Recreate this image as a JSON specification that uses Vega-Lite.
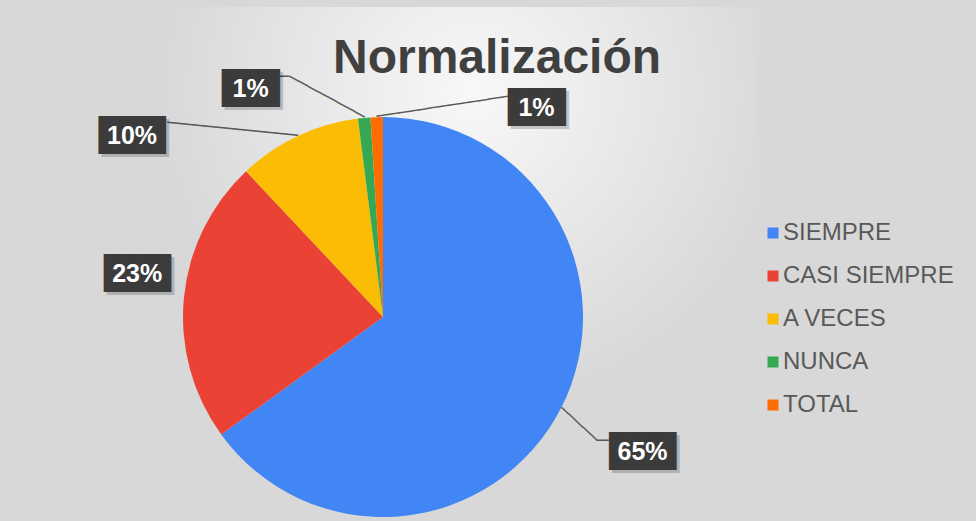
{
  "$schema": "https://vega.github.io/schema/vega-lite/v6.json",
  "width": 752,
  "height": 620,
  "autosize": {"type": "none"},
  "padding": {"left": 7, "top": 7, "right": 217, "bottom": -106},
  "background": "#d8d8d8",
  "config": {"view": {"stroke": null}},
  "title": {
    "text": "Normalización",
    "font": "Liberation Sans",
    "fontSize": 48,
    "fontWeight": "bold",
    "color": "#404040",
    "anchor": "middle",
    "frame": "group",
    "offset": 0,
    "baseline": "alphabetic",
    "dx": 114,
    "dy": 114
  },
  "data": {
    "values": [
      {"cat": "SIEMPRE", "value": 65, "order": 1, "label": "65%"},
      {"cat": "CASI SIEMPRE", "value": 23, "order": 2, "label": "23%"},
      {"cat": "A VECES", "value": 10, "order": 3, "label": "10%"},
      {"cat": "NUNCA", "value": 1, "order": 4, "label": "1%"},
      {"cat": "TOTAL", "value": 1, "order": 5, "label": "1%"}
    ]
  },
  "layer": [
    {
      "data": {"values": [{}]},
      "mark": {
        "type": "rect",
        "fill": {
          "gradient": "radial",
          "x1": 0.62, "y1": 0.2, "r1": 0,
          "x2": 0.62, "y2": 0.2, "r2": 0.42,
          "stops": [
            {"offset": 0, "color": "#f8f8f8"},
            {"offset": 0.5, "color": "#e8e8e8"},
            {"offset": 1, "color": "#d8d8d8"}
          ]
        }
      },
      "encoding": {}
    },
    {
      "encoding": {
        "theta": {"field": "value", "type": "quantitative", "stack": true},
        "order": {"field": "order", "type": "quantitative"},
        "detail": {"field": "cat"}
      },
      "layer": [
        {
          "mark": {"type": "arc", "outerRadius": 200},
          "encoding": {
            "color": {
              "field": "cat",
              "type": "nominal",
              "scale": {
                "domain": ["SIEMPRE", "CASI SIEMPRE", "A VECES", "NUNCA", "TOTAL"],
                "range": ["#4285F4", "#EA4335", "#FBBC04", "#34A853", "#FF6D01"]
              },
              "legend": {
                "title": null,
                "orient": "none",
                "legendX": 754,
                "legendY": 214,
                "symbolType": "square",
                "symbolSize": 121,
                "symbolStrokeWidth": 0,
                "labelFont": "Liberation Sans",
                "labelFontSize": 24,
                "labelColor": "#595959",
                "labelLimit": 400,
                "rowPadding": 19,
                "labelOffset": -2,
                "padding": 0
              }
            }
          }
        },
        {
          "mark": {"type": "text", "font": "DejaVu Sans Mono", "fontSize": 16.2, "color": "#595959", "align": "left", "baseline": "middle", "radius": 200, "angle": 42.8},
          "encoding": {"text": {"condition": {"test": "datum.cat === 'SIEMPRE'", "value": "─────"}, "value": ""}}
        },
        {
          "mark": {"type": "text", "font": "DejaVu Sans Mono", "fontSize": 19, "color": "#595959", "align": "left", "baseline": "middle", "radius": 200, "dx": 35.8, "dy": 33.2},
          "encoding": {"text": {"condition": {"test": "datum.cat === 'SIEMPRE'", "value": "─"}, "value": ""}}
        },
        {
          "mark": {"type": "text", "font": "DejaVu Sans Mono", "fontSize": 16.8, "color": "#595959", "align": "right", "baseline": "middle", "radius": 200, "angle": 5.68},
          "encoding": {"text": {"condition": {"test": "datum.cat === 'A VECES'", "value": "─────────────"}, "value": ""}}
        },
        {
          "mark": {"type": "text", "font": "DejaVu Sans Mono", "fontSize": 17.8, "color": "#595959", "align": "right", "baseline": "middle", "radius": 200, "angle": 28.5},
          "encoding": {"text": {"condition": {"test": "datum.cat === 'NUNCA'", "value": "────────"}, "value": ""}}
        },
        {
          "mark": {"type": "text", "font": "DejaVu Sans Mono", "fontSize": 17, "color": "#595959", "align": "right", "baseline": "middle", "radius": 200, "dx": -75.2, "dy": -40.9},
          "encoding": {"text": {"condition": {"test": "datum.cat === 'NUNCA'", "value": "─"}, "value": ""}}
        },
        {
          "mark": {"type": "text", "font": "DejaVu Sans Mono", "fontSize": 17, "color": "#595959", "align": "left", "baseline": "middle", "radius": 200, "angle": -8.66},
          "encoding": {"text": {"condition": {"test": "datum.cat === 'TOTAL'", "value": "─────────────"}, "value": ""}}
        },
        {
          "mark": {"type": "text", "font": "DejaVu Sans Mono", "fontSize": 32, "color": "#000000", "opacity": 0.18, "align": "center", "baseline": "middle", "radius": 270, "dx": 27, "dy": 15},
          "encoding": {"text": {"condition": {"test": "datum.cat === 'SIEMPRE'", "value": "███▌"}, "value": ""}}
        },
        {
          "mark": {"type": "text", "font": "DejaVu Sans Mono", "fontSize": 32, "color": "#000000", "opacity": 0.18, "align": "center", "baseline": "middle", "radius": 270, "dx": 31, "dy": -15},
          "encoding": {"text": {"condition": {"test": "datum.cat === 'CASI SIEMPRE'", "value": "███▌"}, "value": ""}}
        },
        {
          "mark": {"type": "text", "font": "DejaVu Sans Mono", "fontSize": 32, "color": "#000000", "opacity": 0.18, "align": "center", "baseline": "middle", "radius": 270, "dx": -128, "dy": 66},
          "encoding": {"text": {"condition": {"test": "datum.cat === 'A VECES'", "value": "███▌"}, "value": ""}}
        },
        {
          "mark": {"type": "text", "font": "DejaVu Sans Mono", "fontSize": 32, "color": "#000000", "opacity": 0.18, "align": "center", "baseline": "middle", "radius": 270, "dx": -104, "dy": 44},
          "encoding": {"text": {"condition": {"test": "datum.cat === 'NUNCA'", "value": "███"}, "value": ""}}
        },
        {
          "mark": {"type": "text", "font": "DejaVu Sans Mono", "fontSize": 32, "color": "#000000", "opacity": 0.18, "align": "center", "baseline": "middle", "radius": 270, "dx": 165, "dy": 64},
          "encoding": {"text": {"condition": {"test": "datum.cat === 'TOTAL'", "value": "███"}, "value": ""}}
        },
        {
          "mark": {"type": "text", "font": "DejaVu Sans Mono", "fontSize": 32, "color": "#3b3b3b", "align": "center", "baseline": "middle", "radius": 270, "dx": 24, "dy": 12},
          "encoding": {"text": {"condition": {"test": "datum.cat === 'SIEMPRE'", "value": "███▌"}, "value": ""}}
        },
        {
          "mark": {"type": "text", "font": "DejaVu Sans Mono", "fontSize": 32, "color": "#3b3b3b", "align": "center", "baseline": "middle", "radius": 270, "dx": 28, "dy": -18},
          "encoding": {"text": {"condition": {"test": "datum.cat === 'CASI SIEMPRE'", "value": "███▌"}, "value": ""}}
        },
        {
          "mark": {"type": "text", "font": "DejaVu Sans Mono", "fontSize": 32, "color": "#3b3b3b", "align": "center", "baseline": "middle", "radius": 270, "dx": -131, "dy": 63},
          "encoding": {"text": {"condition": {"test": "datum.cat === 'A VECES'", "value": "███▌"}, "value": ""}}
        },
        {
          "mark": {"type": "text", "font": "DejaVu Sans Mono", "fontSize": 32, "color": "#3b3b3b", "align": "center", "baseline": "middle", "radius": 270, "dx": -107, "dy": 41},
          "encoding": {"text": {"condition": {"test": "datum.cat === 'NUNCA'", "value": "███"}, "value": ""}}
        },
        {
          "mark": {"type": "text", "font": "DejaVu Sans Mono", "fontSize": 32, "color": "#3b3b3b", "align": "center", "baseline": "middle", "radius": 270, "dx": 162, "dy": 61},
          "encoding": {"text": {"condition": {"test": "datum.cat === 'TOTAL'", "value": "███"}, "value": ""}}
        },
        {
          "mark": {"type": "text", "font": "Liberation Sans", "fontWeight": "bold", "fontSize": 25, "color": "#ffffff", "align": "center", "baseline": "middle", "radius": 270, "dx": 19, "dy": 12},
          "encoding": {"text": {"condition": {"test": "datum.cat === 'SIEMPRE'", "field": "label"}, "value": ""}}
        },
        {
          "mark": {"type": "text", "font": "Liberation Sans", "fontWeight": "bold", "fontSize": 25, "color": "#ffffff", "align": "center", "baseline": "middle", "radius": 270, "dx": 23, "dy": -18},
          "encoding": {"text": {"condition": {"test": "datum.cat === 'CASI SIEMPRE'", "field": "label"}, "value": ""}}
        },
        {
          "mark": {"type": "text", "font": "Liberation Sans", "fontWeight": "bold", "fontSize": 25, "color": "#ffffff", "align": "center", "baseline": "middle", "radius": 270, "dx": -136, "dy": 63},
          "encoding": {"text": {"condition": {"test": "datum.cat === 'A VECES'", "field": "label"}, "value": ""}}
        },
        {
          "mark": {"type": "text", "font": "Liberation Sans", "fontWeight": "bold", "fontSize": 25, "color": "#ffffff", "align": "center", "baseline": "middle", "radius": 270, "dx": -107, "dy": 41},
          "encoding": {"text": {"condition": {"test": "datum.cat === 'NUNCA'", "field": "label"}, "value": ""}}
        },
        {
          "mark": {"type": "text", "font": "Liberation Sans", "fontWeight": "bold", "fontSize": 25, "color": "#ffffff", "align": "center", "baseline": "middle", "radius": 270, "dx": 162, "dy": 61},
          "encoding": {"text": {"condition": {"test": "datum.cat === 'TOTAL'", "field": "label"}, "value": ""}}
        }
      ]
    }
  ]
}
